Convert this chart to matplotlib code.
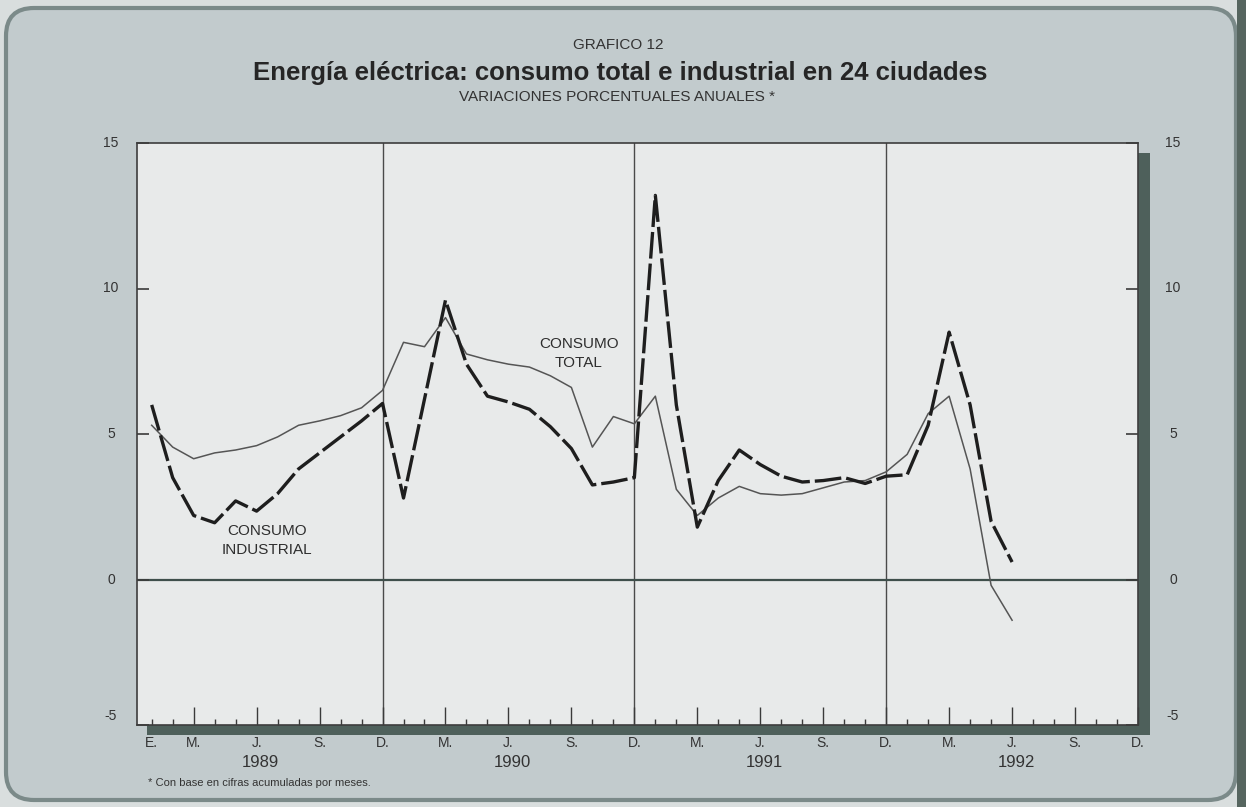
import numpy as np
import matplotlib
matplotlib.use('Agg')
import matplotlib.pyplot as plt
import matplotlib.transforms as mtransforms
from matplotlib.patches import Rectangle, FancyBboxPatch

plt.rcParams['font.family'] = ['Liberation Sans', 'DejaVu Sans']

# meses desde enero 1989 (0) hasta junio 1992 (41)
months = np.arange(42)
total = [5.3, 4.55, 4.15, 4.35, 4.45, 4.6, 4.9, 5.3, 5.45, 5.63, 5.9, 6.5,
         8.15, 8.0, 9.0, 7.75, 7.55, 7.4, 7.3, 7.0, 6.6, 4.55, 5.6, 5.35,
         6.3, 3.1, 2.2, 2.8, 3.2, 2.95, 2.9, 2.95, 3.15, 3.35, 3.4, 3.7,
         4.3, 5.7, 6.3, 3.8, -0.2, -1.4]
industrial = [6.0, 3.5, 2.2, 1.95, 2.7, 2.35, 2.95, 3.8, 4.35, 4.9, 5.45, 6.05,
              2.8, 6.2, 9.6, 7.4, 6.3, 6.1, 5.85, 5.25, 4.5, 3.25, 3.35, 3.5,
              13.2, 6.0, 1.8, 3.4, 4.45, 3.95, 3.55, 3.35, 3.4, 3.5, 3.3, 3.55,
              3.6, 5.3, 8.5, 6.0, 2.0, 0.6]

tick_pos = [0, 2, 5, 8, 11, 14, 17, 20, 23, 26, 29, 32, 35, 38, 41, 44, 47]
tick_lab = ['E.', 'M.', 'J.', 'S.', 'D.'] + ['M.', 'J.', 'S.', 'D.'] * 3
years = ['1989', '1990', '1991', '1992']
year_pos = [5.2, 17.2, 29.2, 41.2]
dec_lines = [11, 23, 35]
y_ticks = [-5, 0, 5, 10, 15]
left_lab = ['-5', '0', '5', '10', '15']
right_lab = ['-5', '0', '5', '10', '15']

W, H = 1246, 807
fig = plt.figure(figsize=(W / 100, H / 100), dpi=100)
fig.patch.set_facecolor('#d9dede')
inch = fig.dpi_scale_trans

# marco redondeado, franja oscura y sombra del grafico
fig.patches.append(FancyBboxPatch((0.06, 0.07), 12.30, 7.92,
                                  boxstyle='round,pad=0,rounding_size=0.28',
                                  transform=inch, fc='#c2cbcd', ec='#7b8a89',
                                  lw=3, zorder=-3))
fig.patches.append(Rectangle((12.37, 0), 0.09, H / 100, transform=inch,
                             fc='#56655f', zorder=-2))
fig.patches.append(Rectangle((1.47, (H - 735) / 100), (1150 - 147) / 100,
                             (735 - 153) / 100, transform=inch,
                             fc='#4e605b', zorder=-1))

ax = fig.add_axes([137 / W, 1 - 725 / H, (1138 - 137) / W, (725 - 143) / H])
ax.set_facecolor('#e8eaea')
ax.set_xlim(-0.7, 47.0)
ax.set_ylim(-4.95, 15)
for s in ax.spines.values():
    s.set_color('#3d3d3d')
    s.set_linewidth(1.2)

for d in dec_lines:
    ax.axvline(d, color='#4a4a4a', lw=1.0, zorder=1)
ax.axhline(0, color='#3f4f4b', lw=1.6, zorder=1)

ax.plot(months, total, color='#555555', lw=1.1, zorder=3)
ax.plot(months, industrial, color='#1e1e1e', lw=2.4, dashes=(8, 1.5),
        dash_capstyle='butt', zorder=4)

ax.set_xticks(tick_pos)
ax.set_xticklabels(tick_lab, fontsize=10, color='#333333')
ax.set_xticks(np.arange(48), minor=True)
ax.tick_params(axis='x', which='major', direction='in', length=13, width=1,
               pad=8, color='#3a3a3a')
ax.tick_params(axis='x', which='minor', direction='in', length=4.5, width=1,
               color='#3a3a3a')
ax.xaxis.get_major_ticks()[0].tick1line.set_markersize(4.5)

ax.set_yticks(y_ticks)
ax.tick_params(axis='y', direction='in', length=8.5, width=1.2, left=True,
               right=True, labelleft=False, labelright=False, color='#3a3a3a')

ytr = mtransforms.blended_transform_factory(ax.transAxes, ax.transData)
for v, a, b in zip(y_ticks, left_lab, right_lab):
    yy = -4.7 if v == -5 else v
    ax.text(-0.026, yy, a, transform=ytr, ha='center', va='center',
            fontsize=10, color='#333333')
    ax.text(1.035, yy, b, transform=ytr, ha='center', va='center',
            fontsize=10, color='#333333')

xtr = mtransforms.blended_transform_factory(ax.transData, ax.transAxes)
for p, y in zip(year_pos, years):
    ax.text(p, -0.064, y, transform=xtr, ha='center', va='center',
            fontsize=12, color='#333333')

ax.text(20.35, 7.77, 'CONSUMO\nTOTAL', ha='center', va='center',
        fontsize=11, color='#2e2e2e', linespacing=1.4)
ax.text(5.5, 1.34, 'CONSUMO\nINDUSTRIAL', ha='center', va='center',
        fontsize=11, color='#2e2e2e', linespacing=1.4)

fig.text(618 / W, 1 - 45 / H, 'GRAFICO 12', ha='center', va='center',
         fontsize=11, color='#333333')
fig.text(620 / W, 1 - 73 / H,
         'Energía eléctrica: consumo total e industrial en 24 ciudades',
         ha='center', va='center', fontsize=18.5, fontweight='bold',
         color='#262626')
fig.text(617 / W, 1 - 97 / H, 'VARIACIONES PORCENTUALES ANUALES *',
         ha='center', va='center', fontsize=11, color='#333333')
fig.text(148 / W, 1 - 783 / H, '* Con base en cifras acumuladas por meses.',
         ha='left', va='center', fontsize=8, color='#333333')

fig.savefig('out.png', dpi=100, facecolor=fig.get_facecolor())
